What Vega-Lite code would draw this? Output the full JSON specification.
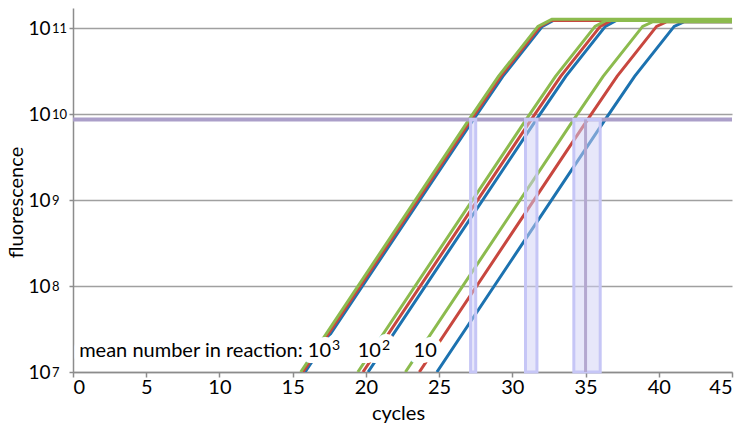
{
  "$schema": "https://vega.github.io/schema/vega-lite/v6.json",
  "width": 659,
  "height": 364,
  "autosize": {"type": "none"},
  "padding": {"left": 73, "top": 8, "right": 16, "bottom": 59},
  "background": "white",
  "resolve": {"axis": {"y": "independent"}},
  "config": {
    "view": {"stroke": null},
    "font": "Lato",
    "axis": {
      "labelFont": "Lato",
      "titleFont": "Lato",
      "labelColor": "#000000",
      "titleColor": "#000000",
      "titleFontWeight": "normal",
      "domainColor": "#8c8c8c",
      "domainWidth": 1.5,
      "tickColor": "#8c8c8c",
      "tickWidth": 1.5
    }
  },
  "datasets": {
    "curves": [
      {"run": "blue", "group": "10^3", "cycle": 15.85, "value": 1e7},
      {"run": "blue", "group": "10^3", "cycle": 27.35, "value": 8.7e9},
      {"run": "blue", "group": "10^3", "cycle": 29.35, "value": 2.75e10},
      {"run": "blue", "group": "10^3", "cycle": 32.05, "value": 1.05e11},
      {"run": "blue", "group": "10^3", "cycle": 32.8, "value": 1.23e11},
      {"run": "blue", "group": "10^3", "cycle": 45, "value": 1.23e11},
      {"run": "blue", "group": "10^2", "cycle": 20.15, "value": 1e7},
      {"run": "blue", "group": "10^2", "cycle": 31.65, "value": 8.7e9},
      {"run": "blue", "group": "10^2", "cycle": 33.65, "value": 2.75e10},
      {"run": "blue", "group": "10^2", "cycle": 36.35, "value": 1.05e11},
      {"run": "blue", "group": "10^2", "cycle": 37.1, "value": 1.23e11},
      {"run": "blue", "group": "10^2", "cycle": 45, "value": 1.23e11},
      {"run": "blue", "group": "10", "cycle": 24.85, "value": 1e7},
      {"run": "blue", "group": "10", "cycle": 36.35, "value": 8.7e9},
      {"run": "blue", "group": "10", "cycle": 38.35, "value": 2.75e10},
      {"run": "blue", "group": "10", "cycle": 41.05, "value": 1.05e11},
      {"run": "blue", "group": "10", "cycle": 41.75, "value": 1.19e11},
      {"run": "blue", "group": "10", "cycle": 45, "value": 1.19e11},
      {"run": "red", "group": "10^3", "cycle": 15.7, "value": 1e7},
      {"run": "red", "group": "10^3", "cycle": 27.2, "value": 8.7e9},
      {"run": "red", "group": "10^3", "cycle": 29.2, "value": 2.75e10},
      {"run": "red", "group": "10^3", "cycle": 31.9, "value": 1.05e11},
      {"run": "red", "group": "10^3", "cycle": 32.65, "value": 1.23e11},
      {"run": "red", "group": "10^3", "cycle": 45, "value": 1.23e11},
      {"run": "red", "group": "10^2", "cycle": 19.8, "value": 1e7},
      {"run": "red", "group": "10^2", "cycle": 31.3, "value": 8.7e9},
      {"run": "red", "group": "10^2", "cycle": 33.3, "value": 2.75e10},
      {"run": "red", "group": "10^2", "cycle": 36.0, "value": 1.05e11},
      {"run": "red", "group": "10^2", "cycle": 36.75, "value": 1.23e11},
      {"run": "red", "group": "10^2", "cycle": 45, "value": 1.23e11},
      {"run": "red", "group": "10", "cycle": 23.65, "value": 1e7},
      {"run": "red", "group": "10", "cycle": 35.15, "value": 8.7e9},
      {"run": "red", "group": "10", "cycle": 37.15, "value": 2.75e10},
      {"run": "red", "group": "10", "cycle": 39.85, "value": 1.05e11},
      {"run": "red", "group": "10", "cycle": 40.55, "value": 1.19e11},
      {"run": "red", "group": "10", "cycle": 45, "value": 1.19e11},
      {"run": "green", "group": "10^3", "cycle": 15.55, "value": 1e7},
      {"run": "green", "group": "10^3", "cycle": 27.05, "value": 8.7e9},
      {"run": "green", "group": "10^3", "cycle": 29.05, "value": 2.75e10},
      {"run": "green", "group": "10^3", "cycle": 31.75, "value": 1.05e11},
      {"run": "green", "group": "10^3", "cycle": 32.7, "value": 1.27e11},
      {"run": "green", "group": "10^3", "cycle": 45, "value": 1.27e11},
      {"run": "green", "group": "10^2", "cycle": 19.45, "value": 1e7},
      {"run": "green", "group": "10^2", "cycle": 30.95, "value": 8.7e9},
      {"run": "green", "group": "10^2", "cycle": 32.95, "value": 2.75e10},
      {"run": "green", "group": "10^2", "cycle": 35.65, "value": 1.05e11},
      {"run": "green", "group": "10^2", "cycle": 36.4, "value": 1.23e11},
      {"run": "green", "group": "10^2", "cycle": 45, "value": 1.23e11},
      {"run": "green", "group": "10", "cycle": 22.7, "value": 1e7},
      {"run": "green", "group": "10", "cycle": 34.2, "value": 8.7e9},
      {"run": "green", "group": "10", "cycle": 36.2, "value": 2.75e10},
      {"run": "green", "group": "10", "cycle": 38.9, "value": 1.05e11},
      {"run": "green", "group": "10", "cycle": 39.6, "value": 1.19e11},
      {"run": "green", "group": "10", "cycle": 45, "value": 1.19e11}
    ],
    "threshold": [{"value": 8.7e9}],
    "windows": [
      {"start": 27.15, "end": 27.5, "low": 1e7, "high": 8.7e9},
      {"start": 30.9, "end": 31.68, "low": 1e7, "high": 8.7e9},
      {"start": 34.2, "end": 36.0, "low": 1e7, "high": 8.7e9}
    ],
    "marker": [{"cycle": 35, "low": 1e7, "high": 8.7e9}],
    "labels": [
      {"base": "mean number in reaction: 10", "sup": "3", "cycle": 17.62, "value": 1.5e7},
      {"base": "10", "sup": "2", "cycle": 21.03, "value": 1.5e7},
      {"base": "10", "sup": "", "cycle": 24.84, "value": 1.5e7}
    ]
  },
  "layer": [
    {
      "data": {"name": "curves"},
      "transform": [{"filter": "datum.run === 'blue'"}],
      "mark": {"type": "line", "stroke": "#1c72b0", "strokeWidth": 3, "clip": true},
      "encoding": {
        "x": {
          "field": "cycle", "type": "quantitative",
          "scale": {"domain": [0, 45], "nice": false, "zero": false},
          "axis": {
            "values": [0, 5, 10, 15, 20, 25, 30, 35, 40, 45],
            "grid": false,
            "tickSize": 5,
            "labelFontSize": 20,
            "labelPadding": 0,
            "title": "cycles",
            "titleFontSize": 20,
            "titleBaseline": "alphabetic",
            "titleX": 325,
            "titleY": 47
          }
        },
        "y": {
          "field": "value", "type": "quantitative",
          "scale": {"type": "log", "domain": [1e7, 1.72e11], "nice": false},
          "axis": {
            "orient": "left",
            "values": [1e7, 1e8, 1e9, 1e10, 1e11],
            "grid": true,
            "gridColor": "#a0a0a0",
            "gridWidth": 1.5,
            "tickSize": 4,
            "labelFontSize": 19,
            "labelAlign": "right",
            "labelBaseline": "middle",
            "labelPadding": 19,
            "labelDy": 2,
            "labelExpr": "'10'",
            "title": "fluorescence",
            "titleFontSize": 20,
            "titleBaseline": "middle",
            "titleX": -57,
            "titleY": 194
          }
        },
        "detail": {"field": "group"}
      }
    },
    {
      "data": {"name": "curves"},
      "transform": [{"filter": "datum.run === 'red'"}],
      "mark": {"type": "line", "stroke": "#c8473f", "strokeWidth": 3, "clip": true},
      "encoding": {
        "x": {"field": "cycle", "type": "quantitative"},
        "y": {
          "field": "value", "type": "quantitative",
          "axis": {
            "orient": "left",
            "values": [1e7, 1e8, 1e9, 1e10, 1e11],
            "grid": false,
            "domain": false,
            "ticks": true,
            "tickSize": 4,
            "tickOpacity": 0,
            "labelFontSize": 13,
            "labelAlign": "left",
            "labelBaseline": "middle",
            "labelPadding": 17.5,
            "labelDy": -8,
            "labelExpr": "datum.value >= 9e10 ? '11' : datum.value >= 9e9 ? '10' : datum.value >= 9e8 ? '9' : datum.value >= 9e7 ? '8' : '7'",
            "title": null
          }
        },
        "detail": {"field": "group"}
      }
    },
    {
      "data": {"name": "curves"},
      "transform": [{"filter": "datum.run === 'green'"}],
      "mark": {"type": "line", "stroke": "#8cbb4e", "strokeWidth": 3, "clip": true},
      "encoding": {
        "x": {"field": "cycle", "type": "quantitative"},
        "y": {"field": "value", "type": "quantitative", "axis": null},
        "detail": {"field": "group"}
      }
    },
    {
      "data": {"name": "threshold"},
      "mark": {"type": "rule", "stroke": "#ab9fc9", "strokeWidth": 4},
      "encoding": {"y": {"field": "value", "type": "quantitative", "axis": null}}
    },
    {
      "data": {"name": "labels"},
      "mark": {"type": "text", "align": "right", "baseline": "alphabetic", "fontSize": 20, "stroke": "white", "strokeWidth": 12, "strokeJoin": "round", "fill": "white"},
      "encoding": {
        "x": {"field": "cycle", "type": "quantitative"},
        "y": {"field": "value", "type": "quantitative", "axis": null},
        "text": {"field": "base"}
      }
    },
    {
      "data": {"name": "labels"},
      "mark": {"type": "text", "align": "left", "baseline": "alphabetic", "fontSize": 14, "dx": 1, "dy": -7, "stroke": "white", "strokeWidth": 12, "strokeJoin": "round", "fill": "white"},
      "encoding": {
        "x": {"field": "cycle", "type": "quantitative"},
        "y": {"field": "value", "type": "quantitative", "axis": null},
        "text": {"field": "sup"}
      }
    },
    {
      "data": {"name": "labels"},
      "mark": {"type": "text", "align": "right", "baseline": "alphabetic", "fontSize": 20, "fill": "black"},
      "encoding": {
        "x": {"field": "cycle", "type": "quantitative"},
        "y": {"field": "value", "type": "quantitative", "axis": null},
        "text": {"field": "base"}
      }
    },
    {
      "data": {"name": "labels"},
      "mark": {"type": "text", "align": "left", "baseline": "alphabetic", "fontSize": 14, "dx": 1, "dy": -7, "fill": "black"},
      "encoding": {
        "x": {"field": "cycle", "type": "quantitative"},
        "y": {"field": "value", "type": "quantitative", "axis": null},
        "text": {"field": "sup"}
      }
    },
    {
      "data": {"name": "windows"},
      "mark": {"type": "rect", "fill": "#d0d0f6", "fillOpacity": 0.5, "stroke": "#c6c6f6", "strokeWidth": 3},
      "encoding": {
        "x": {"field": "start", "type": "quantitative"},
        "x2": {"field": "end"},
        "y": {"field": "low", "type": "quantitative", "axis": null},
        "y2": {"field": "high"}
      }
    },
    {
      "data": {"name": "marker"},
      "mark": {"type": "rule", "stroke": "#b4a8d0", "strokeWidth": 3},
      "encoding": {
        "x": {"field": "cycle", "type": "quantitative"},
        "y": {"field": "low", "type": "quantitative", "axis": null},
        "y2": {"field": "high"}
      }
    }
  ]
}
